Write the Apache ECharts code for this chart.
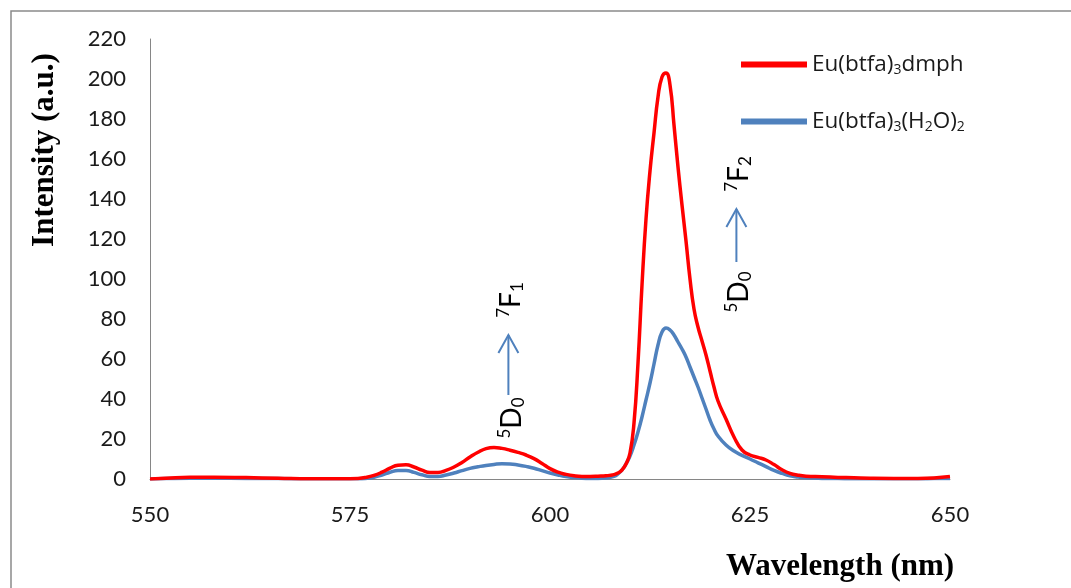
<!DOCTYPE html>
<html>
<head>
<meta charset="utf-8">
<script src="https://cdn.jsdelivr.net/npm/echarts@6/dist/echarts.min.js"></script>
<style>
  html, body { margin: 0; padding: 0; background: #fff; }
  #chart { width: 1071px; height: 588px; }
</style>
</head>
<body>
<div id="chart"></div>
<script>
// Emission spectra of two Eu(III) complexes (wavelength in nm, intensity in a.u.)
const wavelengths = [
  550, 552, 555, 558, 562, 566, 570, 574,
  576, 577, 578, 579, 580, 581, 582, 583, 584, 585, 586, 587, 588, 589, 590, 591, 592,
  593, 594, 595, 596, 597, 598, 599, 600, 601, 602, 603, 604, 605, 606, 607, 608,
  608.5, 609, 609.5, 610, 610.5, 611, 611.5, 612, 612.5, 613, 613.5, 614, 614.5, 615,
  615.5, 616, 616.5, 617, 617.5, 618, 618.5, 619, 619.5, 620, 620.5, 621,
  622, 623, 624, 625, 626, 627, 628, 629, 630, 631, 632,
  634, 636, 638, 640, 643, 646, 648, 650
];
const euDmph = [
  0, 0.4, 0.9, 0.9, 0.7, 0.4, 0.1, 0.1,
  0.3, 0.8, 1.8, 3.4, 5.4, 6.9, 7.1, 6, 4.4, 3.3, 3.3, 4.3, 6, 8.3, 11, 13.4, 15.2,
  15.8, 15.3, 14.4, 13.3, 12, 10.2, 7.8, 5.2, 3.4, 2.3, 1.6, 1.3, 1.3, 1.4, 1.6, 2.2,
  3, 4.5, 7.5, 13, 28, 58, 97, 130, 154, 173, 191, 201, 203, 197,
  177, 156, 137, 119, 100, 85, 76, 69, 62, 54, 46, 39,
  30, 21, 14.5, 12, 10.8, 9.5, 7.2, 4.6, 2.8, 1.9, 1.4,
  1.1, 0.8, 0.6, 0.4, 0.3, 0.3, 0.5, 1.2
];
const euH2O = [
  0, 0.2, 0.4, 0.4, 0.3, 0.2, 0.1, 0.1,
  0.1, 0.3, 0.9, 2, 3.4, 4.3, 4.3, 3.3, 2.1, 1.3, 1.3, 2, 3, 4.2, 5.3, 6.1, 6.8,
  7.3, 7.6, 7.5, 7, 6.3, 5.4, 4.2, 3, 2, 1.2, 0.7, 0.4, 0.3, 0.3, 0.5, 1.3,
  2.5, 4.5, 7.5, 11.5, 17, 23.5, 31, 39.5, 48, 57.5, 67, 73.5, 75.5, 74.5,
  72, 68.5, 65, 61, 56, 51, 46, 40.5, 35, 29.5, 25, 21.5,
  17, 14, 11.8, 10, 8.1, 6.2, 4.3, 2.8, 1.6, 1, 0.6,
  0.3, 0.2, 0.1, 0.1, 0.1, 0.1, 0.2, 0.3
];
const seriesNames = ['Eu(btfa)3dmph', 'Eu(btfa)3(H2O)2'];
const legendRich = {
  'Eu(btfa)3dmph': '{n|Eu(btfa)}{sub|3}{n|dmph}',
  'Eu(btfa)3(H2O)2': '{n|Eu(btfa)}{sub|3}{n|(H}{sub|2}{n|O)}{sub|2}'
};
// transition labels: [rich text, wavelength, intensity]
const transitionLabels = [
  ['{sup|5}{n|D}{sub|0}', 595.2, 30.5],
  ['{sup|7}{n|F}{sub|1}', 595.1, 89.5],
  ['{sup|5}{n|D}{sub|0}', 623.6, 93.5],
  ['{sup|7}{n|F}{sub|2}', 623.6, 152.5]
];
// arrows: [wavelength, from intensity, to intensity]
const transitionArrows = [
  [594.8, 42, 72],
  [623.3, 108.5, 135]
];

const TXT = 'Lato, "Open Sans", sans-serif';
const LEG = '"Open Sans", Lato, sans-serif';
const SERIF = '"Liberation Serif", "DejaVu Serif", serif';
const RED = '#FF0000';
const BLUE = '#4F81BD';

function richStyles(size, color, family) {
  const small = Math.round(size * 0.62);
  const shift = Math.round(size * 0.5);
  return {
    n: { fontSize: size, fontFamily: family, color: color, lineHeight: size, verticalAlign: 'middle' },
    sub: { fontSize: small, fontFamily: family, color: color, lineHeight: small, verticalAlign: 'middle', padding: [shift, 0, 0, 0] },
    sup: { fontSize: small, fontFamily: family, color: color, lineHeight: small, verticalAlign: 'middle', padding: [0, 0, shift, 0] }
  };
}

const toPairs = vals => wavelengths.map((w, i) => [w, vals[i]]);

const chart = echarts.init(document.getElementById('chart'), null, { renderer: 'canvas' });

chart.setOption({
  animation: false,
  backgroundColor: '#fff',
  grid: { left: 150, right: 121, top: 39, bottom: 109, containLabel: false },
  xAxis: {
    type: 'value', min: 550, max: 650, interval: 25,
    axisLine: { show: true, lineStyle: { color: '#868686', width: 1 } },
    axisTick: { show: false },
    splitLine: { show: false },
    axisLabel: { margin: 25, fontSize: 22, fontFamily: TXT, color: '#1a1a1a' }
  },
  yAxis: {
    type: 'value', min: 0, max: 220, interval: 20,
    axisLine: { show: true, lineStyle: { color: '#868686', width: 1 } },
    axisTick: { show: false },
    splitLine: { show: false },
    axisLabel: { margin: 24, fontSize: 22, fontFamily: TXT, color: '#1a1a1a' }
  },
  legend: {
    orient: 'vertical', left: 736, top: 47,
    itemWidth: 66, itemHeight: 6, itemGap: 32,
    icon: 'rect',
    data: [seriesNames[0], seriesNames[1]],
    formatter: name => legendRich[name],
    textStyle: { rich: richStyles(22.5, '#1a1a1a', LEG) }
  },
  series: [
    {
      name: seriesNames[1], type: 'line', data: toPairs(euH2O),
      smooth: 0.5, showSymbol: false, color: BLUE,
      lineStyle: { color: BLUE, width: 3.5 }
    },
    {
      name: seriesNames[0], type: 'line', data: toPairs(euDmph),
      smooth: 0.5, showSymbol: false, color: RED,
      lineStyle: { color: RED, width: 3.5 }
    }
  ]
});

// overlay: frame, axis titles, transition labels and arrows
const px = (x, y) => chart.convertToPixel({ gridIndex: 0 }, [x, y]);
const graphics = [
  {
    type: 'rect', silent: true,
    shape: { x: 11, y: 11, width: 1200, height: 700 },
    style: { fill: 'none', stroke: '#8a8a8a', lineWidth: 1.5 }
  },
  {
    type: 'text', x: 45, y: 150, rotation: Math.PI / 2,
    style: {
      text: 'Intensity (a.u.)', font: 'bold 31px ' + SERIF, fill: '#000',
      align: 'center', verticalAlign: 'middle', textAlign: 'center', textVerticalAlign: 'middle'
    }
  },
  {
    type: 'text', x: 840, y: 567,
    style: {
      text: 'Wavelength (nm)', font: 'bold 31px ' + SERIF, fill: '#000',
      align: 'center', verticalAlign: 'middle', textAlign: 'center', textVerticalAlign: 'middle'
    }
  }
];
transitionLabels.forEach(([t, w, v]) => {
  const p = px(w, v);
  graphics.push({
    type: 'text', x: p[0], y: p[1], rotation: Math.PI / 2,
    style: {
      text: t, rich: richStyles(28, '#000', TXT),
      align: 'center', verticalAlign: 'middle', textAlign: 'center', textVerticalAlign: 'middle'
    }
  });
});
transitionArrows.forEach(([w, v0, v1]) => {
  const a = px(w, v0), b = px(w, v1);
  graphics.push({
    type: 'line', silent: true,
    shape: { x1: a[0], y1: a[1], x2: b[0], y2: b[1] },
    style: { stroke: BLUE, lineWidth: 2 }
  });
  graphics.push({
    type: 'polyline', silent: true,
    shape: { points: [[b[0] - 10, b[1] + 18], [b[0], b[1]], [b[0] + 10, b[1] + 18]] },
    style: { stroke: BLUE, lineWidth: 2, fill: null }
  });
});
chart.setOption({ graphic: graphics });
</script>
</body>
</html>
